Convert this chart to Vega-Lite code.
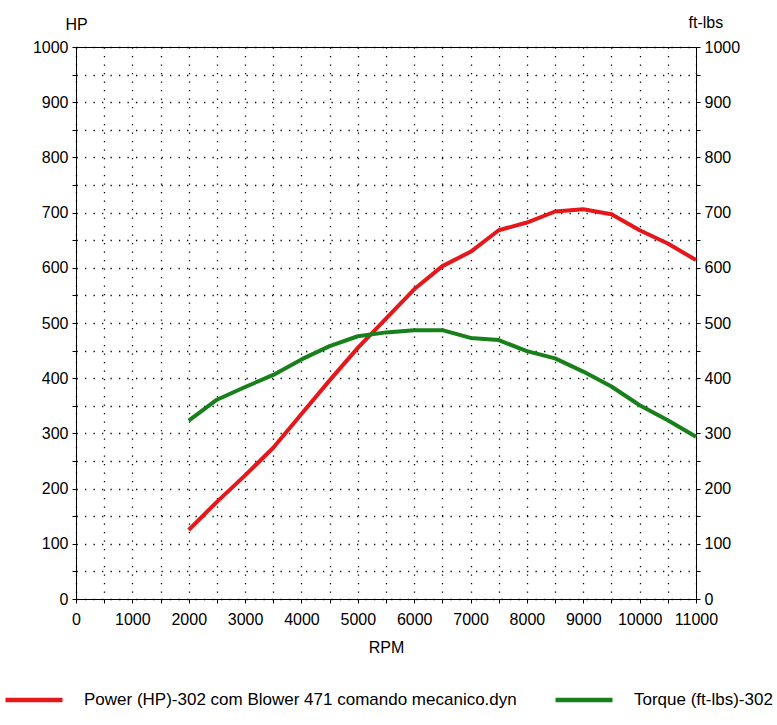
{
  "$schema": "https://vega.github.io/schema/vega-lite/v6.json",
  "width": 620,
  "height": 552,
  "autosize": {"type": "none"},
  "padding": {"left": 76, "top": 47, "right": 81, "bottom": 126},
  "background": "white",
  "data": {
    "values": [
      {"rpm": 2000, "value": 125, "series": "Power (HP)-302 com Blower 471 comando mecanico.dyn"},
      {"rpm": 2500, "value": 176, "series": "Power (HP)-302 com Blower 471 comando mecanico.dyn"},
      {"rpm": 3000, "value": 224, "series": "Power (HP)-302 com Blower 471 comando mecanico.dyn"},
      {"rpm": 3500, "value": 274, "series": "Power (HP)-302 com Blower 471 comando mecanico.dyn"},
      {"rpm": 4000, "value": 335, "series": "Power (HP)-302 com Blower 471 comando mecanico.dyn"},
      {"rpm": 4500, "value": 396, "series": "Power (HP)-302 com Blower 471 comando mecanico.dyn"},
      {"rpm": 5000, "value": 455, "series": "Power (HP)-302 com Blower 471 comando mecanico.dyn"},
      {"rpm": 5500, "value": 508, "series": "Power (HP)-302 com Blower 471 comando mecanico.dyn"},
      {"rpm": 6000, "value": 561, "series": "Power (HP)-302 com Blower 471 comando mecanico.dyn"},
      {"rpm": 6500, "value": 603, "series": "Power (HP)-302 com Blower 471 comando mecanico.dyn"},
      {"rpm": 7000, "value": 629, "series": "Power (HP)-302 com Blower 471 comando mecanico.dyn"},
      {"rpm": 7500, "value": 668, "series": "Power (HP)-302 com Blower 471 comando mecanico.dyn"},
      {"rpm": 8000, "value": 682, "series": "Power (HP)-302 com Blower 471 comando mecanico.dyn"},
      {"rpm": 8500, "value": 702, "series": "Power (HP)-302 com Blower 471 comando mecanico.dyn"},
      {"rpm": 9000, "value": 706, "series": "Power (HP)-302 com Blower 471 comando mecanico.dyn"},
      {"rpm": 9500, "value": 697, "series": "Power (HP)-302 com Blower 471 comando mecanico.dyn"},
      {"rpm": 10000, "value": 668, "series": "Power (HP)-302 com Blower 471 comando mecanico.dyn"},
      {"rpm": 10500, "value": 644, "series": "Power (HP)-302 com Blower 471 comando mecanico.dyn"},
      {"rpm": 11000, "value": 614, "series": "Power (HP)-302 com Blower 471 comando mecanico.dyn"},
      {"rpm": 2000, "value": 323, "series": "Torque (ft-lbs)-302 com Blower 471 comando mecanico.dyn"},
      {"rpm": 2500, "value": 361, "series": "Torque (ft-lbs)-302 com Blower 471 comando mecanico.dyn"},
      {"rpm": 3000, "value": 384, "series": "Torque (ft-lbs)-302 com Blower 471 comando mecanico.dyn"},
      {"rpm": 3500, "value": 406, "series": "Torque (ft-lbs)-302 com Blower 471 comando mecanico.dyn"},
      {"rpm": 4000, "value": 434, "series": "Torque (ft-lbs)-302 com Blower 471 comando mecanico.dyn"},
      {"rpm": 4500, "value": 458, "series": "Torque (ft-lbs)-302 com Blower 471 comando mecanico.dyn"},
      {"rpm": 5000, "value": 476, "series": "Torque (ft-lbs)-302 com Blower 471 comando mecanico.dyn"},
      {"rpm": 5500, "value": 483, "series": "Torque (ft-lbs)-302 com Blower 471 comando mecanico.dyn"},
      {"rpm": 6000, "value": 487, "series": "Torque (ft-lbs)-302 com Blower 471 comando mecanico.dyn"},
      {"rpm": 6500, "value": 487, "series": "Torque (ft-lbs)-302 com Blower 471 comando mecanico.dyn"},
      {"rpm": 7000, "value": 473, "series": "Torque (ft-lbs)-302 com Blower 471 comando mecanico.dyn"},
      {"rpm": 7500, "value": 469, "series": "Torque (ft-lbs)-302 com Blower 471 comando mecanico.dyn"},
      {"rpm": 8000, "value": 449, "series": "Torque (ft-lbs)-302 com Blower 471 comando mecanico.dyn"},
      {"rpm": 8500, "value": 436, "series": "Torque (ft-lbs)-302 com Blower 471 comando mecanico.dyn"},
      {"rpm": 9000, "value": 412, "series": "Torque (ft-lbs)-302 com Blower 471 comando mecanico.dyn"},
      {"rpm": 9500, "value": 385, "series": "Torque (ft-lbs)-302 com Blower 471 comando mecanico.dyn"},
      {"rpm": 10000, "value": 351, "series": "Torque (ft-lbs)-302 com Blower 471 comando mecanico.dyn"},
      {"rpm": 10500, "value": 324, "series": "Torque (ft-lbs)-302 com Blower 471 comando mecanico.dyn"},
      {"rpm": 11000, "value": 294, "series": "Torque (ft-lbs)-302 com Blower 471 comando mecanico.dyn"}
    ]
  },
  "encoding": {
    "x": {
      "field": "rpm",
      "type": "quantitative",
      "title": "RPM",
      "scale": {"domain": [0, 11000], "nice": false},
      "axis": {
        "values": [0, 500, 1000, 1500, 2000, 2500, 3000, 3500, 4000, 4500, 5000, 5500, 6000, 6500, 7000, 7500, 8000, 8500, 9000, 9500, 10000, 10500, 11000],
        "labelExpr": "datum.value % 1000 == 0 ? datum.label : ''",
        "format": "d",
        "grid": true,
        "labelPadding": 8,
        "titlePadding": 12
      }
    },
    "color": {
      "field": "series",
      "type": "nominal",
      "scale": {
        "domain": ["Power (HP)-302 com Blower 471 comando mecanico.dyn", "Torque (ft-lbs)-302 com Blower 471 comando mecanico.dyn"],
        "range": ["#e5171b", "#17801a"]
      },
      "legend": {
        "title": null,
        "orient": "none",
        "direction": "horizontal",
        "legendX": -73,
        "legendY": 622,
        "symbolType": "stroke",
        "symbolSize": 3249,
        "symbolStrokeWidth": 4.5,
        "labelOffset": 19,
        "columnPadding": 29,
        "labelLimit": 0,
        "labelFontSize": 17,
        "labelFont": "Liberation Sans",
        "labelColor": "black",
        "padding": 0
      }
    }
  },
  "layer": [
    {
      "transform": [{"filter": "indexof(datum.series, 'Power') == 0"}],
      "mark": {"type": "line", "strokeWidth": 4, "strokeJoin": "round"},
      "encoding": {
        "y": {
          "field": "value",
          "type": "quantitative",
          "title": "HP",
          "scale": {"domain": [0, 1000], "nice": false},
          "axis": {
            "orient": "left",
            "values": [0, 50, 100, 150, 200, 250, 300, 350, 400, 450, 500, 550, 600, 650, 700, 750, 800, 850, 900, 950, 1000],
            "labelExpr": "datum.value % 100 == 0 ? datum.label : ''",
            "format": "d",
            "grid": true,
            "titleAngle": 0,
            "titleAlign": "left",
            "titleBaseline": "alphabetic",
            "titleX": -11,
            "titleY": -18,
            "labelPadding": 4
          }
        }
      }
    },
    {
      "transform": [{"filter": "indexof(datum.series, 'Torque') == 0"}],
      "mark": {"type": "line", "strokeWidth": 4, "strokeJoin": "round"},
      "encoding": {
        "y": {
          "field": "value",
          "type": "quantitative",
          "title": "ft-lbs",
          "scale": {"domain": [0, 1000], "nice": false},
          "axis": {
            "orient": "right",
            "values": [0, 50, 100, 150, 200, 250, 300, 350, 400, 450, 500, 550, 600, 650, 700, 750, 800, 850, 900, 950, 1000],
            "labelExpr": "datum.value % 100 == 0 ? datum.label : ''",
            "format": "d",
            "grid": false,
            "titleAngle": 0,
            "titleAlign": "left",
            "titleBaseline": "alphabetic",
            "titleX": -8,
            "titleY": -20,
            "labelPadding": 4
          }
        }
      }
    }
  ],
  "resolve": {"scale": {"y": "independent"}},
  "config": {
    "view": {"stroke": "black", "strokeWidth": 1},
    "axis": {
      "domainColor": "black",
      "domainWidth": 1,
      "tickColor": "black",
      "tickSize": 4,
      "labelFont": "Liberation Sans",
      "labelFontSize": 16,
      "labelColor": "black",
      "labelOverlap": false,
      "labelBound": false,
      "labelFlush": false,
      "titleFont": "Liberation Sans",
      "titleFontSize": 16,
      "titleFontWeight": "normal",
      "titleColor": "black",
      "gridColor": "black",
      "gridOpacity": 1,
      "gridWidth": 1.3,
      "gridDash": [1.3, 7.2]
    }
  }
}
